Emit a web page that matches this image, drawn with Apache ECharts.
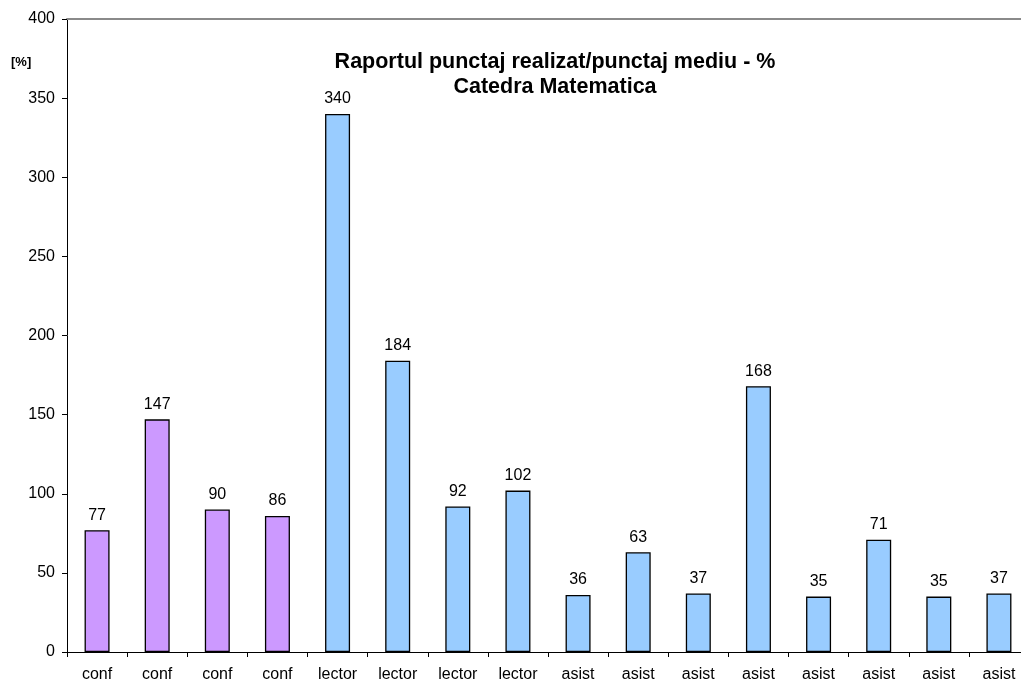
<!DOCTYPE html>
<html>
<head>
<meta charset="utf-8">
<script src="https://cdn.jsdelivr.net/npm/echarts@6/dist/echarts.min.js"></script>
<style>
html,body{margin:0;padding:0;background:#fff;overflow:hidden;width:1021px;height:684px;}
#c{width:1040px;height:684px;}
</style>
</head>
<body>
<div id="c"></div>
<script>
const categories = ['conf','conf','conf','conf','lector','lector','lector','lector','asist','asist','asist','asist','asist','asist','asist','asist'];
const values = [77,147,90,86,340,184,92,102,36,63,37,168,35,71,35,37];
const yTicks = [0,50,100,150,200,250,300,350,400];
const titleLines = ['Raportul punctaj realizat/punctaj mediu - %','Catedra Matematica'];
const unitLabel = '[%]';

const groupColors = { conf: '#CC99FF', lector: '#99CCFF', asist: '#99CCFF' };

const chart = echarts.init(document.getElementById('c'), null, {renderer:'canvas'});
const font = 'Liberation Sans, Arial, sans-serif';
chart.setOption({
  animation: false,
  backgroundColor: '#ffffff',
  title: {
    text: titleLines.join('\n'),
    left: 550, top: 45, textAlign: 'center',
    textStyle: { fontFamily: font, fontSize: 21.5, fontWeight: 'bold', color: '#000', lineHeight: 25 }
  },
  graphic: [{
    type: 'text', left: 11, top: 56,
    style: { text: unitLabel, font: 'bold 13px ' + font, fill: '#000' }
  }],
  grid: { left: 67, top: 19, bottom: 32, right: 11, containLabel: false },
  xAxis: [{
    type: 'category',
    data: categories,
    axisLine: { lineStyle: { color: '#000', width: 1 } },
    axisTick: { show: true, length: 5, lineStyle: { color: '#000' } },
    axisLabel: { fontFamily: font, fontSize: 16, color: '#000', margin: 15, interval: 0 }
  },{
    type: 'category',
    data: categories,
    position: 'top',
    axisLine: { show: true, lineStyle: { color: '#8a8a8a', width: 2 } },
    axisTick: { show: false },
    axisLabel: { show: false }
  }],
  yAxis: {
    type: 'value',
    min: yTicks[0], max: yTicks[yTicks.length-1], interval: yTicks[1]-yTicks[0],
    axisLine: { show: true, lineStyle: { color: '#000', width: 1 } },
    axisTick: { show: true, length: 5, lineStyle: { color: '#000' } },
    axisLabel: { fontFamily: font, fontSize: 16, color: '#000', margin: 12 },
    splitLine: { show: false }
  },
  series: [{
    type: 'bar',
    barWidth: 25,
    data: values.map((v,i)=>({ value: v, itemStyle: { color: groupColors[categories[i]] } })),
    itemStyle: { borderColor: '#000', borderWidth: 1.3 },
    label: { show: true, position: 'top', distance: 7, fontFamily: font, fontSize: 16, color: '#000' }
  }]
});
</script>
</body>
</html>
